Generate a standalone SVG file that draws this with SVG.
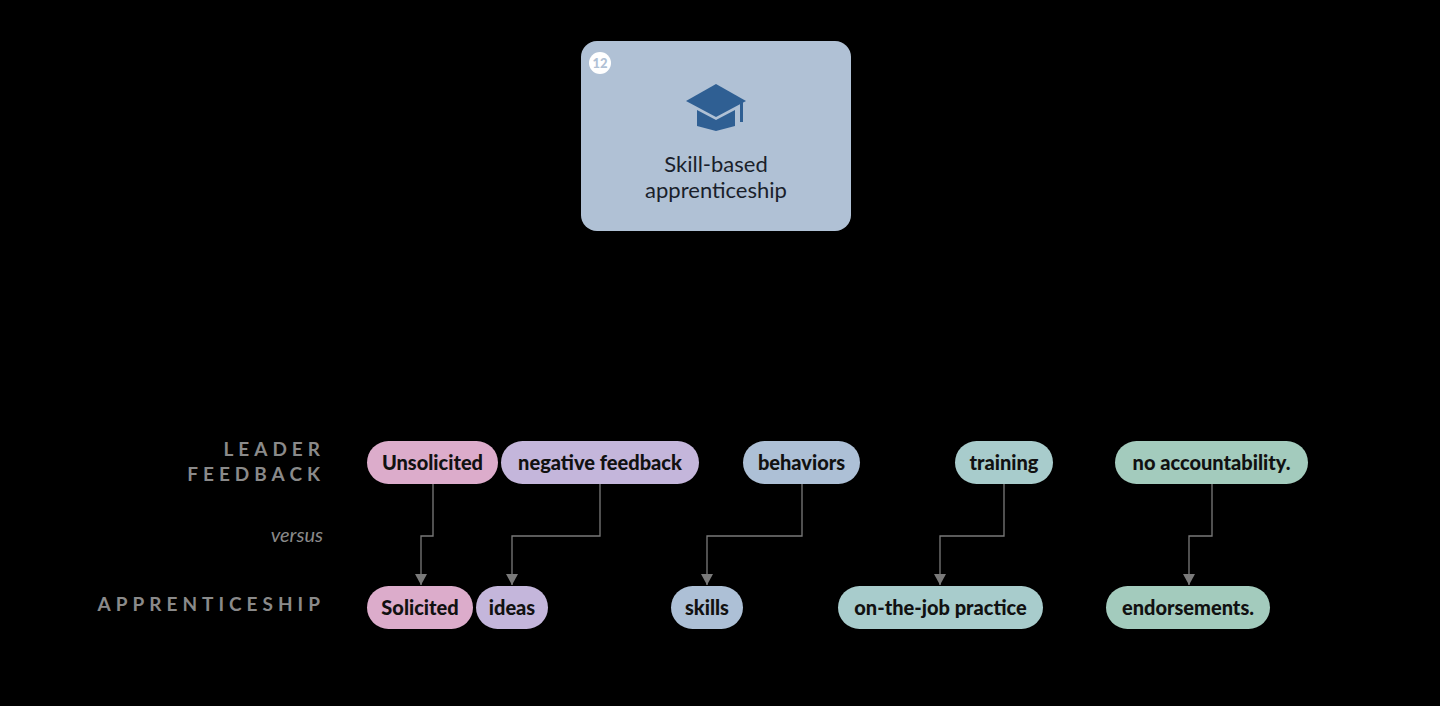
<svg xmlns="http://www.w3.org/2000/svg" width="1440" height="706" viewBox="0 0 1440 706">
<defs>
<style>
.t{font-family:Lato,"Liberation Sans",sans-serif;font-weight:900;font-size:20px;fill:#111;text-anchor:middle}
.lab{font-family:Lato,"Liberation Sans",sans-serif;font-weight:700;font-size:19px;fill:#8a8a8a;text-anchor:end;letter-spacing:5px}
.c{fill:none;stroke:#7a7a7a;stroke-width:1.3}
</style>
<marker id="a" markerWidth="12" markerHeight="12" refX="11" refY="6" orient="auto" markerUnits="userSpaceOnUse"><path d="M0,0 L11,6 L0,12 Z" fill="#7a7a7a"/></marker>
</defs>
<rect width="1440" height="706" fill="#000"/>
<g id="card">
<rect x="581" y="41" width="270" height="190" rx="16" fill="#b0c1d5"/>
<circle cx="600" cy="63" r="11" fill="#fff"/>
<text x="600" y="68" font-family="Lato,'Liberation Sans',sans-serif" font-weight="900" font-size="13" fill="#b0c1d5" text-anchor="middle">12</text>
<path d="M686,101 L716,84 L746,101 L716,117 Z" fill="#2f5f93"/>
<path d="M697,110 L716,120 L735,110 L735,126 L716,131 L697,126 Z" fill="#2f5f93"/>
<rect x="740" y="100" width="3" height="22" fill="#2f5f93"/>
<text x="716" y="172" font-family="Lato,'Liberation Sans',sans-serif" font-size="22" fill="#1a1f2b" text-anchor="middle">Skill-based</text>
<text x="716" y="198" font-family="Lato,'Liberation Sans',sans-serif" font-size="22" fill="#1a1f2b" text-anchor="middle">apprenticeship</text>
</g>
<g id="labels">
<text class="lab" x="325" y="456">LEADER</text>
<text class="lab" x="325" y="481">FEEDBACK</text>
<text x="323" y="542" font-family="Lato,'Liberation Sans',sans-serif" font-style="italic" font-size="20" fill="#8a8a8a" text-anchor="end">versus</text>
<text class="lab" x="325" y="611">APPRENTICESHIP</text>
</g>
<g id="connectors">
<path class="c" d="M433,484 V536 H421 V585" marker-end="url(#a)"/>
<path class="c" d="M600,484 V536 H512 V585" marker-end="url(#a)"/>
<path class="c" d="M802,484 V536 H707 V585" marker-end="url(#a)"/>
<path class="c" d="M1004,484 V536 H940 V585" marker-end="url(#a)"/>
<path class="c" d="M1212,484 V536 H1189 V585" marker-end="url(#a)"/>
</g>
<g id="n1"><rect x="367" y="441" width="131" height="43" rx="21.5" fill="#dcaccb"/><text class="t" x="432.5" y="469.5">Unsolicited</text></g>
<g id="n2"><rect x="501" y="441" width="198" height="43" rx="21.5" fill="#c4b6db"/><text class="t" x="600" y="469.5">negative feedback</text></g>
<g id="n3"><rect x="743" y="441" width="117" height="43" rx="21.5" fill="#adc0d6"/><text class="t" x="801.5" y="469.5">behaviors</text></g>
<g id="n4"><rect x="955" y="441" width="98" height="43" rx="21.5" fill="#a8cccc"/><text class="t" x="1004" y="469.5">training</text></g>
<g id="n5"><rect x="1115" y="441" width="193" height="43" rx="21.5" fill="#a3cbbd"/><text class="t" x="1211.5" y="469.5">no accountability.</text></g>
<g id="m1"><rect x="367" y="586" width="106" height="43" rx="21.5" fill="#dcaccb"/><text class="t" x="420" y="614.5">Solicited</text></g>
<g id="m2"><rect x="476" y="586" width="72" height="43" rx="21.5" fill="#c4b6db"/><text class="t" x="512" y="614.5">ideas</text></g>
<g id="m3"><rect x="671" y="586" width="72" height="43" rx="21.5" fill="#adc0d6"/><text class="t" x="707" y="614.5">skills</text></g>
<g id="m4"><rect x="838" y="586" width="205" height="43" rx="21.5" fill="#a8cccc"/><text class="t" x="940.5" y="614.5">on-the-job practice</text></g>
<g id="m5"><rect x="1106" y="586" width="164" height="43" rx="21.5" fill="#a3cbbd"/><text class="t" x="1188" y="614.5">endorsements.</text></g>
</svg>
